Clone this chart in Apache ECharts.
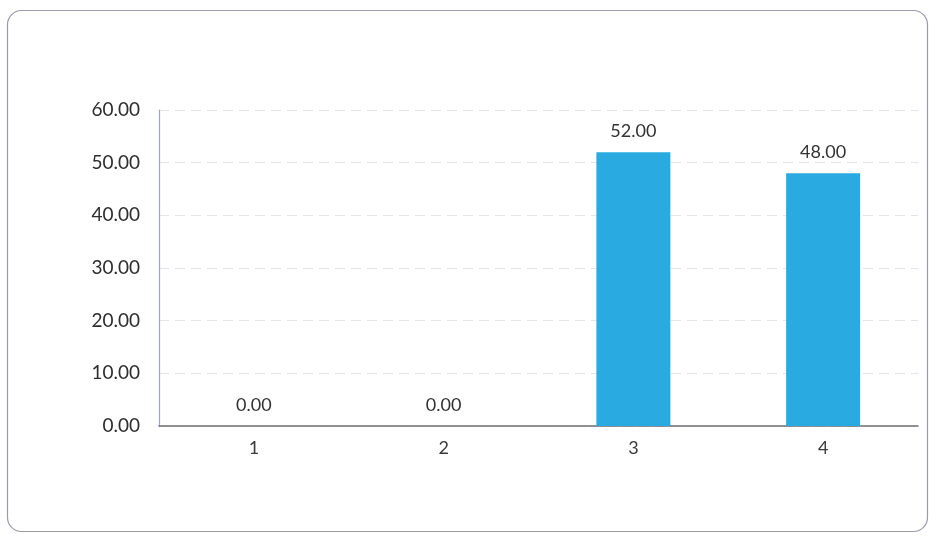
<!DOCTYPE html>
<html>
<head>
<meta charset="utf-8">
<style>
  html, body { margin: 0; padding: 0; background: #ffffff; }
  #chart { width: 929px; height: 536px; }
</style>
<script src="https://cdn.jsdelivr.net/npm/echarts@6/dist/echarts.min.js"></script>
</head>
<body>
<div id="chart"></div>
<script>
// Categories and values
const categories = ['1', '2', '3', '4'];
const values = [0.00, 0.00, 52.00, 48.00];
const yTicks = [0, 10, 20, 30, 40, 50, 60];

const chart = echarts.init(document.getElementById('chart'), null, { renderer: 'canvas' });

const font = 'Lato, "Open Sans", "Liberation Sans", sans-serif';

chart.setOption({
  animation: false,
  backgroundColor: '#ffffff',
  graphic: [{
    type: 'rect',
    shape: { x: 7.5, y: 10.5, width: 920, height: 521, r: 14 },
    style: { fill: 'none', stroke: '#9a9aa8', lineWidth: 1.2 },
    silent: true,
    z: -1
  }],
  grid: { left: 159, right: 11, top: 110, bottom: 110, containLabel: false },
  xAxis: {
    type: 'category',
    data: categories,
    axisLine: { show: true, lineStyle: { color: '#6e6e7a', width: 1.5 } },
    axisTick: { show: false },
    axisLabel: { color: '#3a3a3a', fontSize: 18, fontFamily: font, margin: 13 }
  },
  yAxis: {
    type: 'value',
    min: yTicks[0],
    max: yTicks[yTicks.length - 1],
    interval: 10,
    axisLine: { show: true, lineStyle: { color: '#9ea3c0', width: 1.2 } },
    axisTick: { show: false },
    axisLabel: {
      color: '#2e2e2e', fontSize: 19, fontFamily: font, margin: 19,
      formatter: v => v.toFixed(2)
    },
    splitLine: { show: true, lineStyle: { color: '#e4e4e8', width: 1, type: [10, 6] } }
  },
  series: [{
    type: 'bar',
    data: values,
    barWidth: '39%',
    itemStyle: { color: '#29abe2' },
    label: {
      show: true,
      position: 'top',
      distance: 12,
      color: '#333333',
      fontSize: 18,
      fontFamily: font,
      formatter: p => p.value.toFixed(2)
    }
  }]
});
</script>
</body>
</html>
